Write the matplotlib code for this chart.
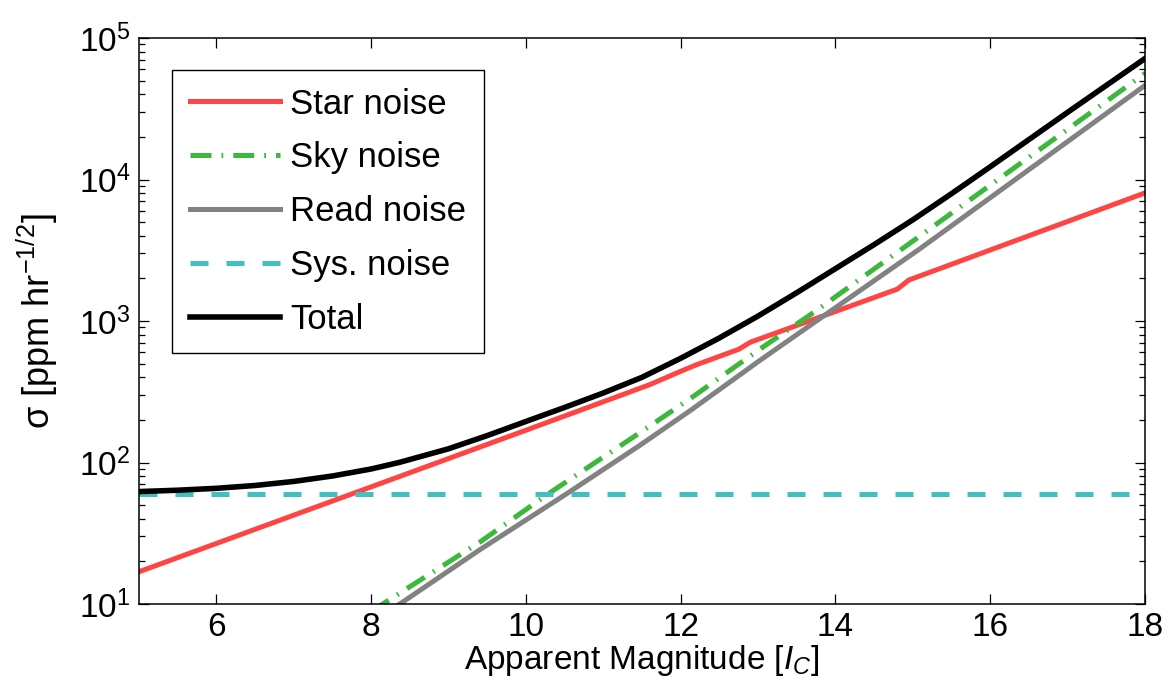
import numpy as np
import matplotlib
matplotlib.use("Agg")
import matplotlib.pyplot as plt
from matplotlib.ticker import LogLocator, FixedLocator, NullLocator

plt.rcParams['font.family'] = ['Liberation Sans', 'DejaVu Sans']
plt.rcParams['mathtext.fontset'] = 'custom'
plt.rcParams['mathtext.rm'] = 'Liberation Sans'
plt.rcParams['mathtext.it'] = 'Liberation Sans:italic'
plt.rcParams['mathtext.bf'] = 'Liberation Sans:bold'

# ---- data ----
star_mag = [5.0, 8.36, 10.0, 11.6, 12.0, 12.2, 12.75, 12.9, 14.8, 14.95, 15.57, 18.0]
star_val = [16.9, 79.4, 169, 355, 441, 490, 631, 708, 1680, 1950, 2600, 8040]

sky_mag = [8.0, 8.15, 9.41, 10.28, 11.47, 12.12, 13.02, 13.73, 15.09, 18.0]
sky_val = [8.8, 10.0, 27.5, 59.6, 162, 282, 631, 1161, 3981, 56234]

read_mag = [8.2, 8.37, 9.41, 10.54, 11.47, 12.12, 13.02, 13.95, 15.09, 18.0]
read_val = [8.8, 10.0, 24.3, 60.8, 132, 232, 525, 1189, 3236, 46238]

sys_mag = [5.0, 18.0]
sys_val = [60.0, 60.0]

total_mag = [5.0, 5.5, 6.0, 6.5, 7.0, 7.5, 8.0, 8.36, 9.0, 9.5, 10.0, 10.5, 11.0, 11.5,
             12.0, 12.5, 13.0, 13.5, 14.0, 14.5, 15.0, 15.5, 16.0, 17.0, 18.0]
total_val = [62.3, 63.7, 65.7, 68.8, 73.5, 80.3, 90.0, 100, 125, 155, 195, 245, 310, 400,
             545, 759, 1084, 1585, 2344, 3467, 5188, 7943, 12300, 29850, 71600]

labels = ['Star noise', 'Sky noise', 'Read noise', 'Sys. noise', 'Total']
xticks = [6, 8, 10, 12, 14, 16, 18]

fig = plt.figure(figsize=(11.76, 6.93), dpi=100)
ax = fig.add_axes([139/1176, 1-604/693, (1145-139)/1176, (604-38)/693])

ax.plot(star_mag, star_val, color='#ff4444', lw=3.6, label=labels[0])
ax.plot(sky_mag, sky_val, color='#3cb93c', lw=3.6, label=labels[1],
        linestyle=(0, (4.2, 2.0, 0.35, 2.0)), dash_capstyle='butt')
ax.plot(read_mag, read_val, color='#828282', lw=3.6, label=labels[2])
ax.plot(sys_mag, sys_val, color='#40c0c0', lw=3.6, label=labels[3],
        linestyle=(0, (3.6, 3.6)), dash_capstyle='butt')
ax.plot(total_mag, total_val, color='black', lw=4.0, label=labels[4])

ax.set_yscale('log')
ax.set_xlim(5, 18)
ax.set_ylim(10, 1e5)
ax.xaxis.set_major_locator(FixedLocator(xticks))
ax.xaxis.set_minor_locator(NullLocator())
ax.yaxis.set_major_locator(LogLocator(base=10, numticks=10))
ax.yaxis.set_minor_locator(LogLocator(base=10, subs=np.arange(2, 10), numticks=20))

ax.tick_params(which='both', direction='in', top=True, right=True, width=0.9, colors='black')
ax.tick_params(which='major', length=7, labelsize=24, pad=6)
ax.tick_params(which='minor', length=4)
for s in ax.spines.values():
    s.set_linewidth(1.1)

ax.set_xlabel('Apparent Magnitude [$I_C$]', fontsize=24, labelpad=0)
ax.set_ylabel('σ [ppm hr$^{-1/2}$]', fontsize=26, labelpad=14)

leg = ax.legend(loc='upper left', bbox_to_anchor=(0.033, 0.943), fontsize=25,
                frameon=True, fancybox=False, edgecolor='black', framealpha=1,
                handlelength=2.6, handletextpad=0.3, labelspacing=0.6,
                borderpad=0.5, borderaxespad=0)
leg.get_frame().set_linewidth(1.0)

fig.savefig('out.png', dpi=100)
